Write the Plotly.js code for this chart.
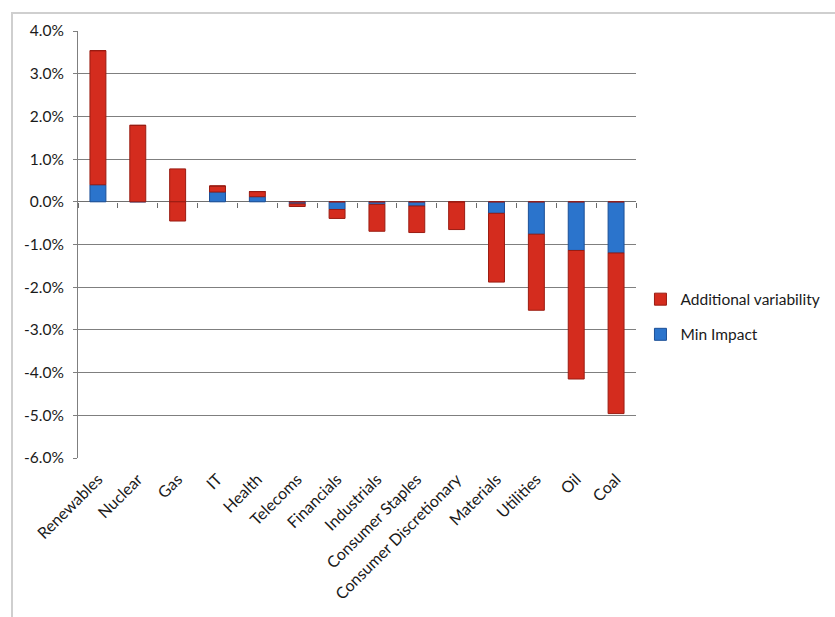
<!DOCTYPE html>
<html>
<head>
<meta charset="utf-8">
<script src="https://cdn.plot.ly/plotly-3.0.1.min.js"></script>
<style>
  html, body { margin: 0; padding: 0; background: #fff; }
  #wrap { position: relative; width: 835px; height: 617px; overflow: hidden; }
  #chart { width: 835px; height: 617px; }
  #frame {
    position: absolute; left: 11px; top: 12px; width: 900px; height: 700px;
    border-left: 2px solid #cfcfcf; border-top: 2px solid #cfcfcf;
    pointer-events: none;
  }
</style>
</head>
<body>
<div id="wrap">
  <div id="chart"></div>
  <div id="frame"></div>
</div>
<script>
// Sectors, in display order
const categories = ['Renewables', 'Nuclear', 'Gas', 'IT', 'Health', 'Telecoms', 'Financials',
  'Industrials', 'Consumer Staples', 'Consumer Discretionary', 'Materials', 'Utilities', 'Oil', 'Coal'];

// Minimum impact (% change), stacked next to zero
const minImpact = [0.40, 0.00, 0.00, 0.23, 0.12, -0.05, -0.18, -0.06, -0.10, 0.00, -0.27, -0.76, -1.14, -1.20];

// Additional variability beyond the minimum impact, same direction (%)
const additionalVariability = [3.14, 1.79, 0.77, 0.14, 0.12, -0.06, -0.21, -0.63, -0.62, -0.65, -1.61, -1.78, -3.01, -3.76];

// Additional variability in the opposite direction (%)
const additionalOpposite = [0, 0, -0.45, 0, 0, 0, 0, 0, 0, 0, 0, 0, 0, 0];

// Y axis range and ticks (%)
const yMin = -6, yMax = 4;
const yTicks = [4, 3, 2, 1, 0, -1, -2, -3, -4, -5, -6];

const RED = '#d42c1e', RED_LINE = '#9a1c12';
const BLUE = '#2b74cc', BLUE_LINE = '#1c4f96';
const FONT = 'Lato, "Open Sans", sans-serif';
const TEXT = '#1a1a1a';

const traces = [
  {
    type: 'bar', name: 'Min Impact', x: categories, y: minImpact,
    marker: { color: BLUE, line: { color: BLUE_LINE, width: 1 } },
    legendgroup: 'min', legendrank: 2, hoverinfo: 'x+y'
  },
  {
    type: 'bar', name: 'Additional variability', x: categories, y: additionalVariability,
    marker: { color: RED, line: { color: RED_LINE, width: 1 } },
    legendgroup: 'add', legendrank: 1, hoverinfo: 'x+y'
  },
  {
    type: 'bar', name: 'Additional variability', x: categories, y: additionalOpposite,
    marker: { color: RED, line: { color: RED_LINE, width: 1 } },
    legendgroup: 'add', legendrank: 1, showlegend: false, hoverinfo: 'x+y'
  }
];

const layout = {
  width: 835, height: 617,
  margin: { l: 78, r: 199, t: 31, b: 159, autoexpand: false },
  paper_bgcolor: '#fff', plot_bgcolor: '#fff',
  font: { family: FONT, size: 15, color: TEXT },
  barmode: 'relative',
  bargap: 0.6,
  showlegend: true,
  legend: {
    x: 1.008, xanchor: 'left', y: 0.33, yanchor: 'middle',
    traceorder: 'grouped', tracegroupgap: 12,
    font: { family: FONT, size: 15.5, color: TEXT },
    itemwidth: 30
  },
  // Category axis drawn on the zero line: boundary tick marks only
  xaxis: {
    type: 'category', categoryorder: 'array', categoryarray: categories,
    anchor: 'free', position: (0 - yMin) / (yMax - yMin),
    showgrid: false, zeroline: false, showline: false,
    ticks: 'outside', tickson: 'boundaries', ticklen: 5, tickwidth: 1, tickcolor: '#6b6b6b',
    showticklabels: false
  },
  // Label axis at the bottom of the plot
  xaxis2: {
    overlaying: 'x', anchor: 'y', side: 'bottom',
    range: [-0.5, categories.length - 0.5],
    tickmode: 'array',
    tickvals: categories.map((_, i) => i),
    ticktext: categories,
    tickangle: -45,
    ticks: '', showgrid: false, zeroline: false, showline: false,
    ticklabelstandoff: 8,
    tickfont: { family: FONT, size: 16, color: TEXT }
  },
  yaxis: {
    range: [yMin, yMax], domain: [0, 1],
    tickmode: 'array', tickvals: yTicks,
    ticktext: yTicks.map(v => v.toFixed(1) + '%'),
    showgrid: true, gridcolor: '#7f7f7f', gridwidth: 1,
    zeroline: true, zerolinecolor: '#6f6f6f', zerolinewidth: 1,
    showline: true, linecolor: '#7f7f7f', linewidth: 1,
    ticks: 'outside', ticklen: 4, tickcolor: '#7f7f7f',
    tickfont: { family: FONT, size: 15.5, color: TEXT },
    ticklabelstandoff: 6
  }
};

// A dummy point keeps the label axis active
traces.push({
  type: 'scatter', x: [0], y: [0], xaxis: 'x2', yaxis: 'y',
  mode: 'markers', marker: { opacity: 0 }, showlegend: false, hoverinfo: 'skip'
});

Plotly.newPlot('chart', traces, layout, { displayModeBar: false, staticPlot: true });
</script>
</body>
</html>
